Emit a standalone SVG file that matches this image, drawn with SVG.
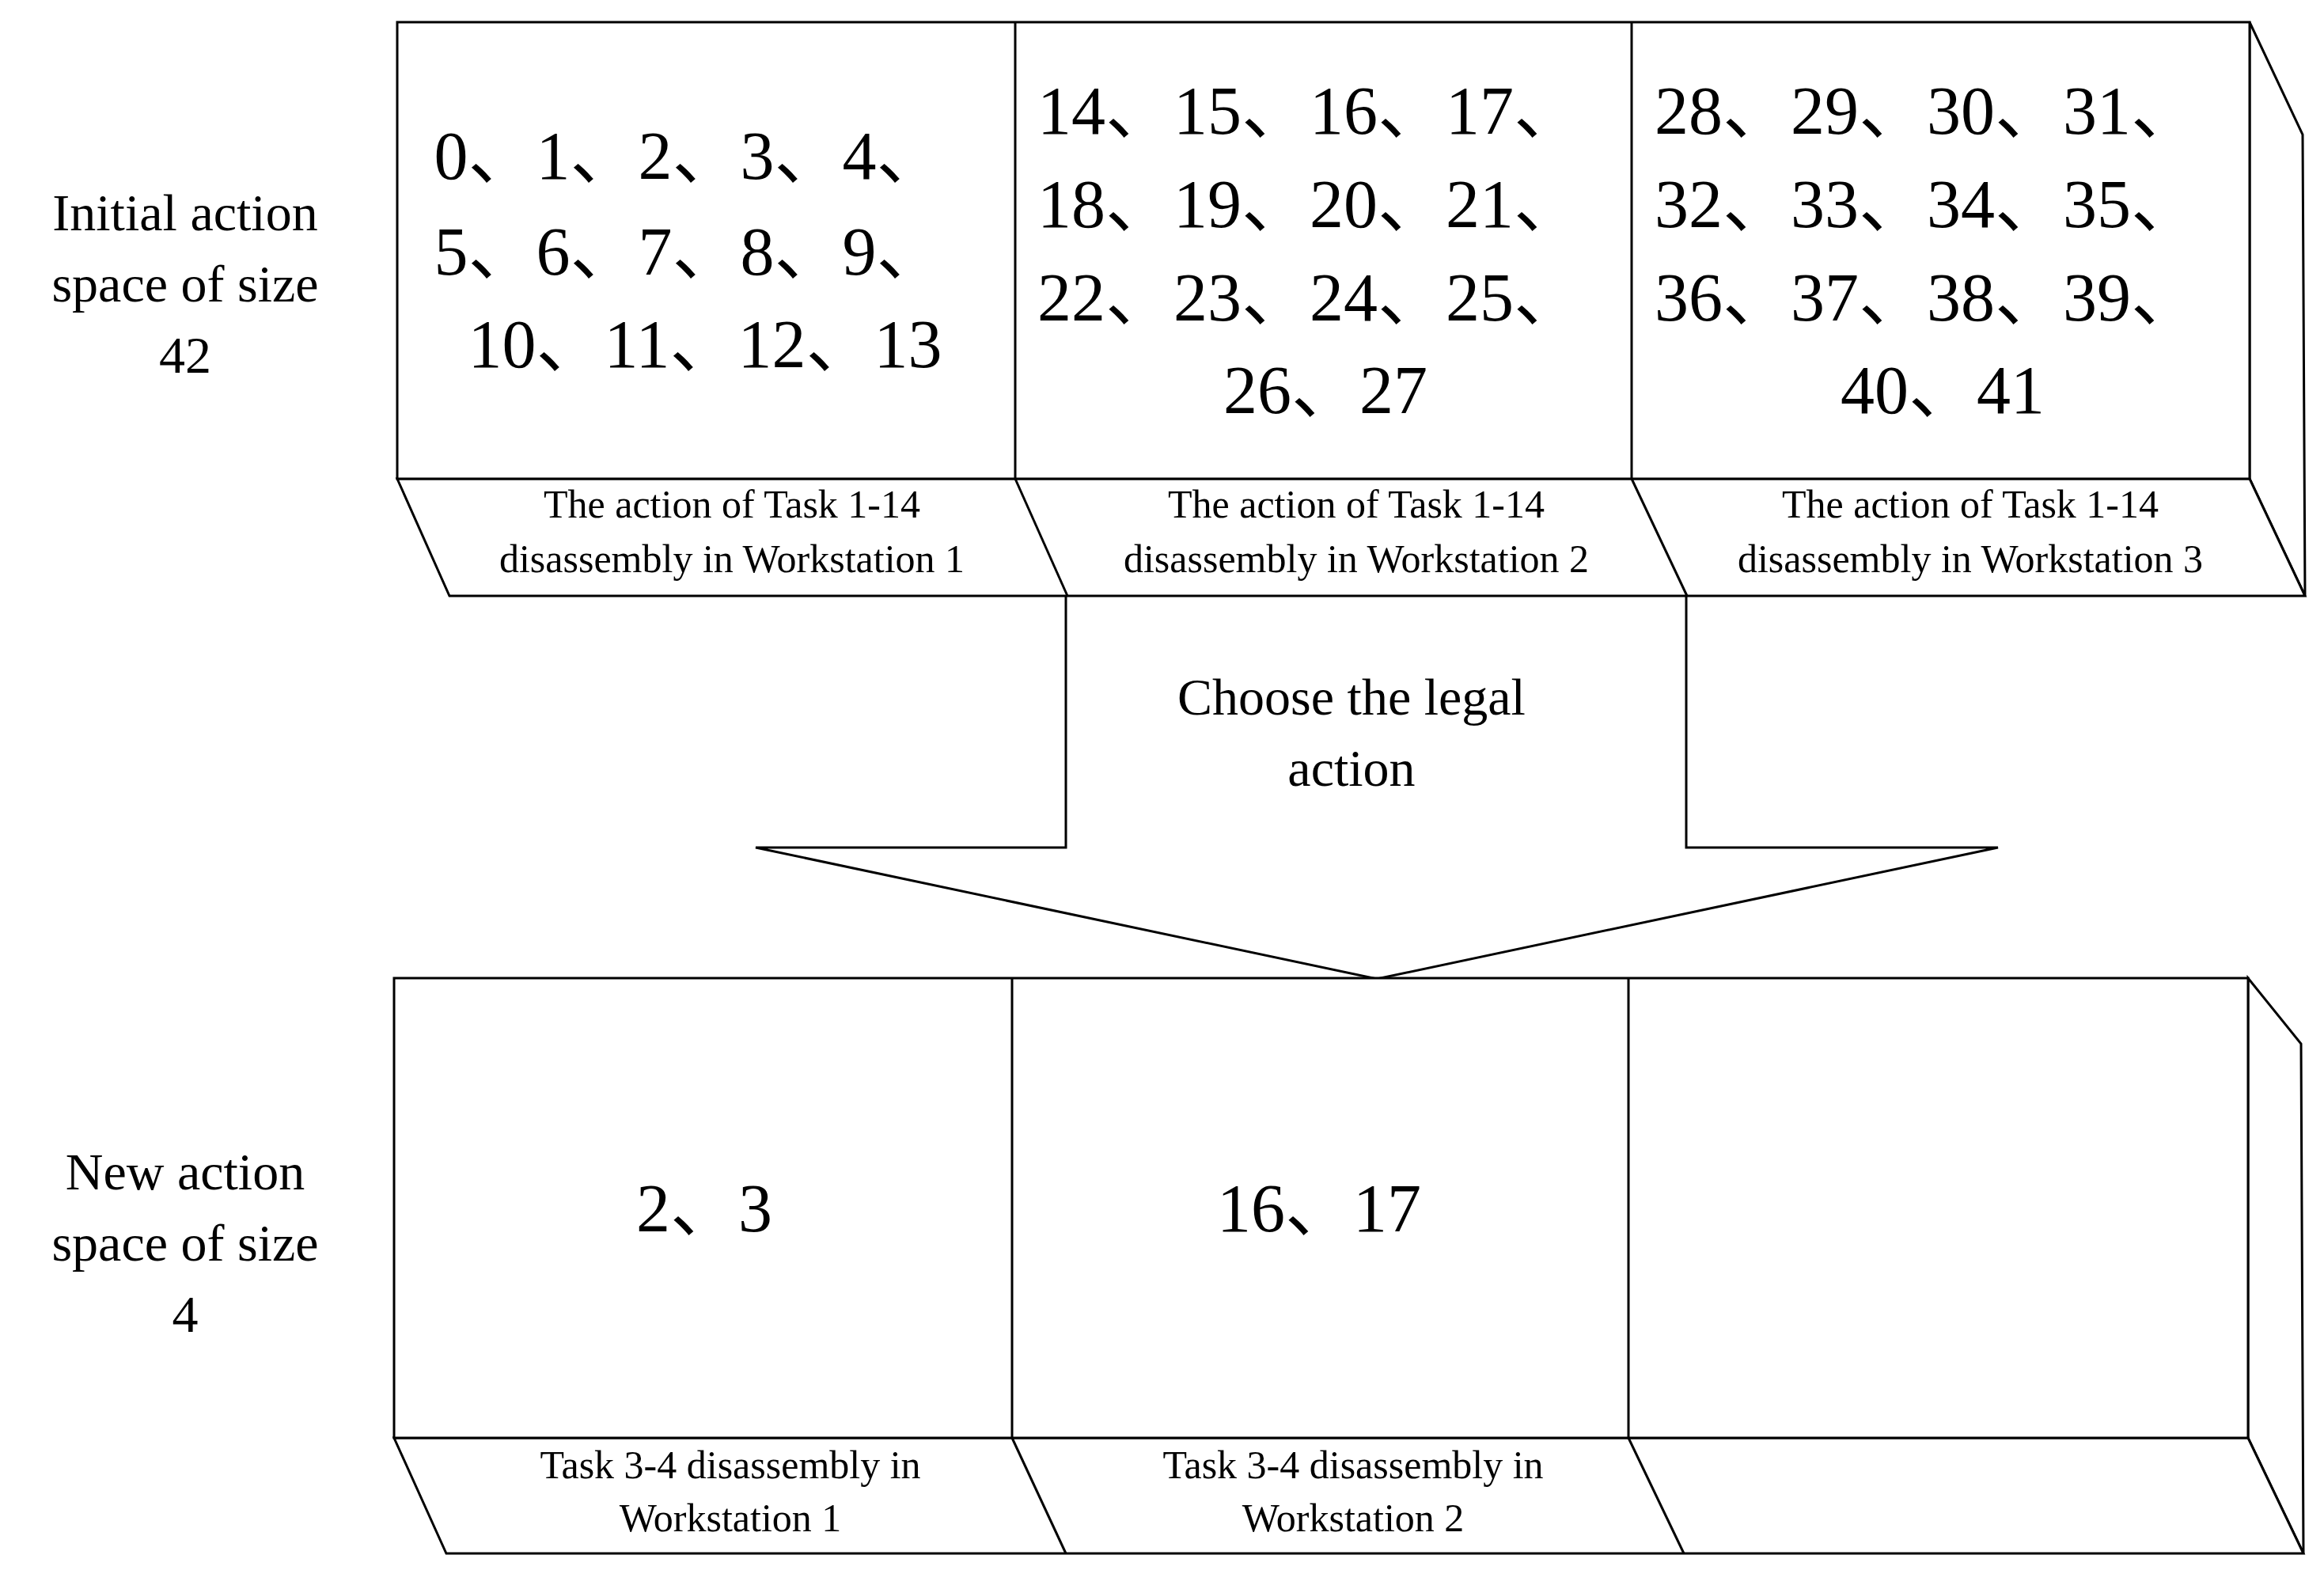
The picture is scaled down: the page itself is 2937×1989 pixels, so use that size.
<svg xmlns="http://www.w3.org/2000/svg" width="2937" height="1989" viewBox="0 0 2937 1989">
<style>
.s{fill:#fff;stroke:#000;stroke-width:3}
text{font-family:"Liberation Serif","Times New Roman",Tinos,"DejaVu Serif","Noto Sans CJK SC",serif;fill:#000;text-anchor:middle;dominant-baseline:central}
.n{font-size:86px}
.l{font-size:66px}
.c{font-size:50px}
</style>
<rect width="2937" height="1989" fill="#fff"/>
<g id="top-space">
<path class="s" d="M2843 28 L2910 170 L2913 753 L2843 605 Z"/>
<path class="s" d="M502 605 L2843 605 L2913 753 L568 753 Z"/>
<rect class="s" x="502" y="28" width="2341" height="577"/>
<line class="s" x1="1283" y1="28" x2="1283" y2="605"/>
<line class="s" x1="2062" y1="28" x2="2062" y2="605"/>
<line class="s" x1="1283" y1="605" x2="1349" y2="753"/>
<line class="s" x1="2062" y1="605" x2="2132" y2="753"/>
</g>
<g id="label-initial" class="l" font-family="Liberation Serif, serif"><text x="234" y="268">Initial action</text><text x="234" y="358">space of size</text><text x="234" y="448">42</text></g>
<g id="ws1" class="n"><text x="871" y="197">0、1、2、3、4、</text><text x="871" y="318">5、6、7、8、9、</text><text x="891" y="435">10、11、12、13</text></g>
<g id="ws2" class="n"><text x="1655" y="140">14、15、16、17、</text><text x="1655" y="258">18、19、20、21、</text><text x="1655" y="376">22、23、24、25、</text><text x="1675" y="493">26、27</text></g>
<g id="ws3" class="n"><text x="2435" y="140">28、29、30、31、</text><text x="2435" y="258">32、33、34、35、</text><text x="2435" y="376">36、37、38、39、</text><text x="2455" y="493">40、41</text></g>
<g id="strip-top" class="c">
<text x="925" y="637">The action of Task 1-14</text><text x="925" y="706">disassembly in Workstation 1</text>
<text x="1714" y="637">The action of Task 1-14</text><text x="1714" y="706">disassembly in Workstation 2</text>
<text x="2490" y="637">The action of Task 1-14</text><text x="2490" y="706">disassembly in Workstation 3</text>
</g>
<g id="connectors">
<path d="M1349 755 L1347 1071 L955 1071 L1740 1237 L2525 1071 L2131 1071 L2132 755 Z" fill="#fff" stroke="none"/>
<path d="M1347 753 L1347 1071 L955 1071 L1740 1237 L2525 1071 L2131 1071 L2131 753" fill="none" stroke="#000" stroke-width="3"/>
</g>
<g id="choose" class="l"><text x="1708" y="880">Choose the legal</text><text x="1708" y="970">action</text></g>
<g id="bottom-space">
<path class="s" d="M2841 1236 L2908 1319 L2911 1963 L2841 1817 Z"/>
<path class="s" d="M498 1817 L2841 1817 L2911 1963 L564 1963 Z"/>
<rect class="s" x="498" y="1236" width="2343" height="581"/>
<line class="s" x1="1279" y1="1236" x2="1279" y2="1817"/>
<line class="s" x1="2058" y1="1236" x2="2058" y2="1817"/>
<line class="s" x1="1279" y1="1817" x2="1347" y2="1963"/>
<line class="s" x1="2058" y1="1817" x2="2128" y2="1963"/>
</g>
<g id="label-new" class="l"><text x="234" y="1480">New action</text><text x="234" y="1570">space of size</text><text x="234" y="1660">4</text></g>
<g id="new1" class="n"><text x="890" y="1527">2、3</text></g>
<g id="new2" class="n"><text x="1667" y="1527">16、17</text></g>
<g id="strip-bottom" class="c">
<text x="923" y="1851">Task 3-4 disassembly in</text><text x="923" y="1918">Workstation 1</text>
<text x="1710" y="1851">Task 3-4 disassembly in</text><text x="1710" y="1918">Workstation 2</text>
</g>
</svg>
